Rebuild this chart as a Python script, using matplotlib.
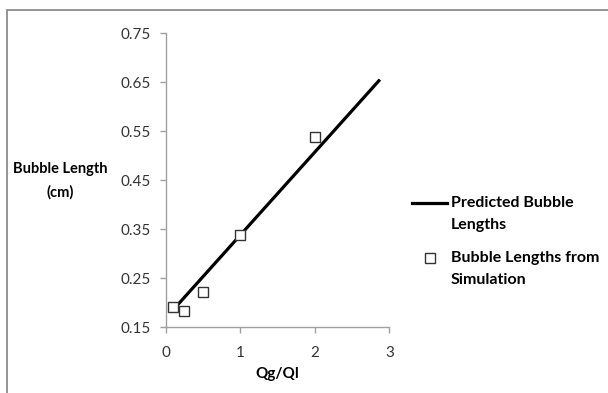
import matplotlib
matplotlib.use("Agg")
import matplotlib.pyplot as plt
from matplotlib.patches import Rectangle
from matplotlib.lines import Line2D

# Flow-rate ratio and bubble lengths
sim_ratio = [0.1, 0.25, 0.5, 1.0, 2.0]
sim_length = [0.19, 0.183, 0.221, 0.337, 0.539]

pred_ratio = [0.1, 2.86]
pred_length = [0.185, 0.653]

y_ticks = [0.15, 0.25, 0.35, 0.45, 0.55, 0.65, 0.75]
x_ticks = [0, 1, 2, 3]

plt.rcParams["font.family"] = ["Lato", "DejaVu Sans"]

W, H = 608, 393
fig = plt.figure(figsize=(W / 100, H / 100), dpi=100)
ax = fig.add_axes([0.2725, 0.1679, 0.6403 - 0.2725, 0.9153 - 0.1679])


def fx(px):
    return px / W


def fy(py):
    return 1 - py / H


# outer chart frame
fig.patches.append(Rectangle((fx(7), -0.2), 2, fy(10) + 0.2,
                             transform=fig.transFigure, fill=False,
                             edgecolor="#8c8c8c", linewidth=1.3, zorder=0))

ax.plot(pred_ratio, pred_length, color="black", linewidth=2.3, zorder=2)
ax.plot(sim_ratio, sim_length, linestyle="none", marker="s", markersize=7.5,
        markerfacecolor="white", markeredgecolor="#333333", markeredgewidth=1.0,
        zorder=3)

ax.set_xlim(0, 3)
ax.set_ylim(0.15, 0.75)
ax.set_xticks(x_ticks)
ax.set_yticks(y_ticks)
ax.set_xticklabels([str(t) for t in x_ticks])
ax.set_yticklabels([f"{t:.2f}" for t in y_ticks])

for side in ("top", "right"):
    ax.spines[side].set_visible(False)
for side in ("left", "bottom"):
    ax.spines[side].set_color("#a0a0a0")
    ax.spines[side].set_linewidth(1.0)
ax.tick_params(axis="both", direction="out", length=4, width=1.0,
               color="#a0a0a0", labelsize=11, labelcolor="#333333")
ax.tick_params(axis="y", pad=7)
ax.tick_params(axis="x", pad=10)

ax.set_xlabel("Qg/Ql", fontsize=11, fontweight="bold", labelpad=5)
fig.text(fx(60), fy(169), "Bubble Length", ha="center", va="center",
         fontsize=10.5, fontweight="bold")
fig.text(fx(60), fy(192), "(cm)", ha="center", va="center",
         fontsize=10.5, fontweight="bold")

# legend drawn beside the plot
fig.add_artist(Line2D([fx(412), fx(447)], [fy(203), fy(203)], color="black",
                      linewidth=2.3, transform=fig.transFigure))
fig.add_artist(Line2D([fx(430)], [fy(258)], linestyle="none", marker="s",
                      markersize=7, markerfacecolor="white",
                      markeredgecolor="#333333", markeredgewidth=1.0,
                      transform=fig.transFigure))
legend_text = [("Predicted Bubble", 203), ("Lengths", 225),
               ("Bubble Lengths from", 258), ("Simulation", 280)]
for txt, py in legend_text:
    fig.text(fx(451), fy(py), txt, ha="left", va="center",
             fontsize=11.5, fontweight="bold")

fig.savefig("out.png", dpi=100)
